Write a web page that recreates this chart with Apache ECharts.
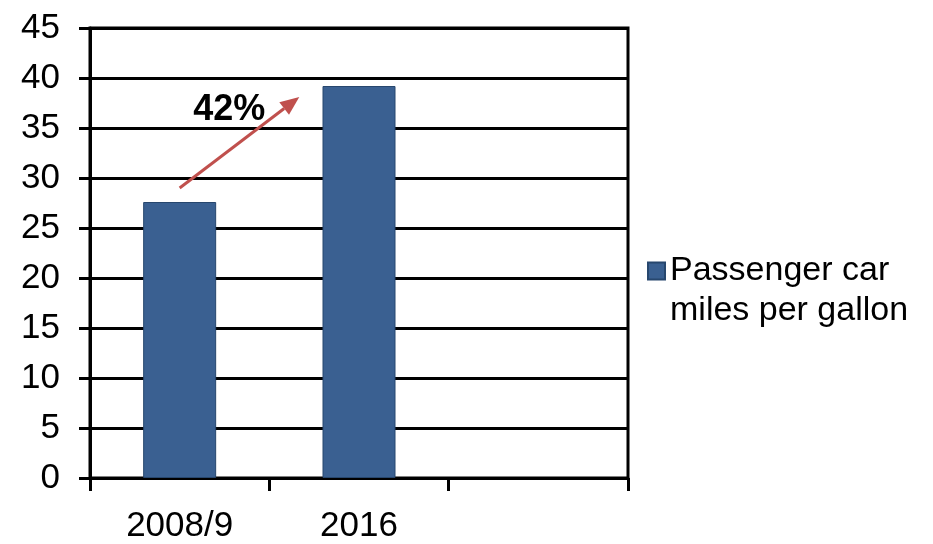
<!DOCTYPE html>
<html>
<head>
<meta charset="utf-8">
<script src="https://cdn.jsdelivr.net/npm/echarts@6/dist/echarts.min.js"></script>
<style>html,body{margin:0;padding:0;background:#fff;}#c{width:933px;height:544px;}</style>
</head>
<body>
<div id="c"></div>
<script>
const categories = ['2008/9', '2016', ''];
const mpgValues = [27.6, 39.2, null];
const seriesName = 'Passenger car\nmiles per gallon';
const yTicks = { min: 0, max: 45, interval: 5 };
// annotation arrow: [category position, value]
const arrowTail = [0, 29];
const arrowHead = [0.667, 38.1];
const labelPos = [0.277, 36.8];
const labelText = '42%';

const FONT = '"Liberation Sans", Arial, sans-serif';
const chart = echarts.init(document.getElementById('c'));
chart.setOption({
  animation: false,
  grid: { left: 90, right: 305, top: 28, bottom: 65, show: true, borderColor: '#000', borderWidth: 3 },
  legend: {
    left: 647, top: 211, padding: 0,
    itemWidth: 17, itemHeight: 17, icon: 'rect',
    data: [seriesName],
    formatter: name => '\n' + name,
    textStyle: { fontFamily: FONT, fontSize: 34, color: '#000', lineHeight: 40 }
  },
  xAxis: {
    type: 'category', data: categories, boundaryGap: true,
    axisLine: { lineStyle: { color: '#000', width: 3 } },
    axisTick: { show: true, length: 13, lineStyle: { color: '#000', width: 3 } },
    axisLabel: { fontFamily: FONT, fontSize: 35, color: '#000', margin: 31 },
    splitLine: { show: false }
  },
  yAxis: {
    type: 'value', min: yTicks.min, max: yTicks.max, interval: yTicks.interval,
    axisLine: { show: true, lineStyle: { color: '#000', width: 3 } },
    axisTick: { show: true, length: 11, lineStyle: { color: '#000', width: 3 } },
    axisLabel: { fontFamily: FONT, fontSize: 35, color: '#000', margin: 30 },
    splitLine: { show: true, lineStyle: { color: '#000', width: 3 } }
  },
  series: [{
    name: seriesName, type: 'bar', data: mpgValues, barWidth: 73,
    itemStyle: { color: '#3A6091', borderColor: '#27476E', borderWidth: 1 }
  }]
});

function toPx(p) {
  const a = chart.convertToPixel({ gridIndex: 0 }, [0, p[1]]);
  const b = chart.convertToPixel({ gridIndex: 0 }, [1, p[1]]);
  return [a[0] + (b[0] - a[0]) * p[0], a[1]];
}
const t = toPx(arrowTail), h = toPx(arrowHead), l = toPx(labelPos);
const ang = Math.atan2(h[1] - t[1], h[0] - t[0]);
const hl = 19, hw = 8;
const bx = h[0] - hl * Math.cos(ang), by = h[1] - hl * Math.sin(ang);
const px = -Math.sin(ang) * hw, py = Math.cos(ang) * hw;
chart.setOption({
  graphic: [
    { type: 'line', z: 100, shape: { x1: t[0], y1: t[1], x2: bx, y2: by }, style: { stroke: '#C0504D', lineWidth: 3 } },
    { type: 'polygon', z: 100, shape: { points: [[h[0], h[1]], [bx + px, by + py], [bx - px, by - py]] }, style: { fill: '#C0504D' } },
    { type: 'text', z: 101, x: l[0], y: l[1], style: { text: labelText, fontFamily: FONT, fontWeight: 'bold', fontSize: 36, fill: '#000', align: 'center', verticalAlign: 'middle' } }
  ]
});
</script>
</body>
</html>
